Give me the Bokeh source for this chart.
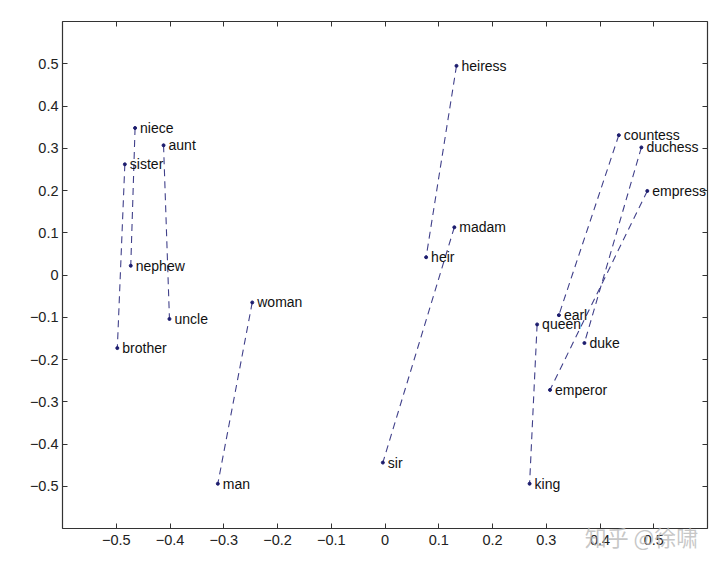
from bokeh.plotting import figure
from bokeh.models import ColumnDataSource, LinearAxis, FixedTicker, Range1d
from bokeh.core.properties import value
from bokeh.embed import file_html
from bokeh.resources import INLINE

# word vectors (2-D projection)
words = ["niece", "aunt", "sister", "nephew", "uncle", "brother",
         "woman", "man", "heiress", "madam", "heir", "sir",
         "countess", "duchess", "empress", "earl", "queen", "duke", "emperor", "king"]
xs = [-0.465, -0.412, -0.484, -0.473, -0.401, -0.498,
      -0.247, -0.311, 0.133, 0.129, 0.0765, -0.004,
      0.435, 0.477, 0.488, 0.3235, 0.283, 0.371, 0.307, 0.269]
ys = [0.348, 0.307, 0.262, 0.022, -0.104, -0.173,
      -0.065, -0.494, 0.495, 0.113, 0.042, -0.444,
      0.331, 0.302, 0.199, -0.095, -0.117, -0.161, -0.272, -0.494]

# female -> male pairs
pairs = [("niece", "nephew"), ("aunt", "uncle"), ("sister", "brother"),
         ("woman", "man"), ("heiress", "heir"), ("madam", "sir"),
         ("countess", "earl"), ("duchess", "duke"), ("empress", "emperor"),
         ("queen", "king")]

ticks = [-0.5, -0.4, -0.3, -0.2, -0.1, 0, 0.1, 0.2, 0.3, 0.4, 0.5]
tick_labels = {t: ("\u2212" + f"{abs(t):g}" if t < 0 else f"{t:g}") for t in ticks}
watermark = "知乎 @徐啸"

FONT = "Liberation Sans"

p = figure(width=720, height=565, output_backend="svg", toolbar_location=None,
           x_range=Range1d(-0.6, 0.6), y_range=Range1d(-0.6, 0.6),
           x_axis_location=None, y_axis_location=None,
           min_border_left=62, min_border_right=13, min_border_top=21, min_border_bottom=37)
p.grid.visible = False
p.outline_line_color = "#333333"
p.outline_line_width = 1.2
p.background_fill_color = "white"
p.border_fill_color = "white"

def mk_axis(show_labels):
    ax = LinearAxis(ticker=FixedTicker(ticks=ticks))
    ax.major_tick_in = 5
    ax.major_tick_out = 0
    ax.minor_tick_line_color = None
    ax.axis_line_color = None
    ax.major_tick_line_color = "#333333"
    if show_labels:
        ax.major_label_overrides = tick_labels
        ax.major_label_text_font = FONT
        ax.major_label_text_font_size = "14.5px"
        ax.major_label_text_color = "#222222"
        ax.major_label_standoff = 6
    else:
        ax.major_label_text_color = None
        ax.major_label_standoff = 0
    return ax

bx = mk_axis(True)
# site watermark carried by the bottom axis label (bottom right corner);
# trailing ideographic spaces shift the centred label to the left
bx.axis_label = watermark + "\u3000" * 6
bx.axis_label_align = "end"
bx.axis_label_standoff = -28
bx.axis_label_text_font = "Noto Sans CJK SC"
bx.axis_label_text_font_size = "22px"
bx.axis_label_text_font_style = "normal"
bx.axis_label_text_color = "#b5b5b5"
bx.axis_label_text_alpha = 0.75
lx = mk_axis(True)
lx.major_label_standoff = 4
tx = mk_axis(False)
rx = mk_axis(False)
p.add_layout(bx, "below")
p.add_layout(lx, "left")
p.add_layout(tx, "above")
p.add_layout(rx, "right")

idx = {w: i for i, w in enumerate(words)}
x0 = [xs[idx[a]] for a, b in pairs]
y0 = [ys[idx[a]] for a, b in pairs]
x1 = [xs[idx[b]] for a, b in pairs]
y1 = [ys[idx[b]] for a, b in pairs]
p.segment(x0=x0, y0=y0, x1=x1, y1=y1, line_color="#40408a", line_width=1.1, line_dash="7 5")

src = ColumnDataSource(dict(x=xs, y=ys, w=words))
p.scatter("x", "y", source=src, size=3, color="#1c1c6e")
p.text("x", "y", text="w", source=src, x_offset=5, text_baseline="middle",
       text_font=value(FONT), text_font_size="14px", text_color="#111111")

open("out.html", "w").write(file_html(p, INLINE))
